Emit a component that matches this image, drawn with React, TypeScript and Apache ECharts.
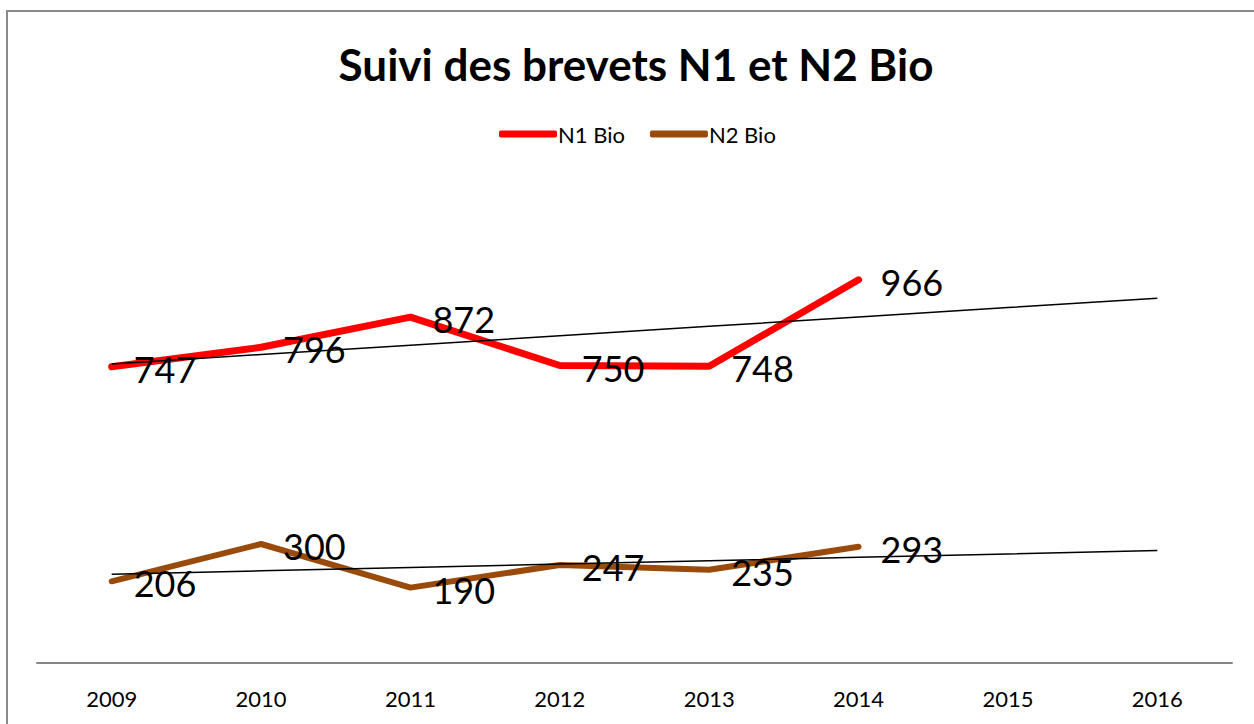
import React, { useEffect, useRef } from "react";
import * as echarts from "echarts";

const years = ["2009", "2010", "2011", "2012", "2013", "2014", "2015", "2016"];
const n1Bio = [747, 796, 872, 750, 748, 966];
const n2Bio = [206, 300, 190, 247, 235, 293];
const seriesNames = ["N1 Bio", "N2 Bio"];

// Linear trendline (least squares) over the observed values, extended across all categories
function trend(values: number[], total: number): number[] {
  const n = values.length;
  const xs = values.map((_, i) => i + 1);
  const mx = xs.reduce((a, b) => a + b, 0) / n;
  const my = values.reduce((a, b) => a + b, 0) / n;
  let num = 0;
  let den = 0;
  for (let i = 0; i < n; i++) {
    num += (xs[i] - mx) * (values[i] - my);
    den += (xs[i] - mx) * (xs[i] - mx);
  }
  const slope = num / den;
  const icpt = my - slope * mx;
  const out: number[] = [];
  for (let i = 1; i <= total; i++) out.push(icpt + slope * i);
  return out;
}

const FONT = "Lato, 'Noto Sans', sans-serif";

export default function App() {
  const ref = useRef<HTMLDivElement>(null);
  useEffect(() => {
    if (!ref.current) return;
    const chart = echarts.init(ref.current, undefined, { renderer: "svg" });
    const label = {
      show: true,
      position: "right" as const,
      distance: 22,
      offset: [0, 2],
      color: "#000",
      fontSize: 36,
      fontFamily: FONT,
    };
    chart.setOption({
      animation: false,
      backgroundColor: "#fff",
      title: {
        text: "Suivi des brevets N1 et N2 Bio",
        left: 631,
        textAlign: "center",
        top: 37,
        textStyle: { fontFamily: FONT, fontWeight: "bold", fontSize: 44, color: "#000" },
      },
      legend: {
        data: seriesNames,
        left: 494,
        top: 118,
        icon: "roundRect",
        itemWidth: 58,
        itemHeight: 7,
        itemGap: 25,
        textStyle: { fontFamily: FONT, fontSize: 22, color: "#000", padding: [0, 0, 0, -4] },
      },
      grid: { left: 37, right: 22, top: 187, bottom: 61 },
      xAxis: {
        type: "category",
        data: years,
        boundaryGap: true,
        axisLine: { lineStyle: { color: "#868686", width: 2 } },
        axisTick: { show: false },
        axisLabel: { color: "#000", fontFamily: FONT, fontSize: 22, margin: 24 },
      },
      yAxis: { type: "value", min: 0, max: 1200, show: false },
      graphic: [
        {
          type: "rect",
          shape: { x: 7, y: 11, width: 1300, height: 800 },
          style: { fill: "none", stroke: "#8a8a8a", lineWidth: 2 },
          silent: true,
        },
      ],
      series: [
        {
          name: "N1 Bio",
          type: "line",
          data: n1Bio,
          symbol: "circle",
          symbolSize: 0,
          showSymbol: true,
          lineStyle: { color: "#FF0000", width: 7, cap: "round" },
          itemStyle: { color: "#FF0000" },
          label,
          z: 2,
        },
        {
          name: "N2 Bio",
          type: "line",
          data: n2Bio,
          symbol: "circle",
          symbolSize: 0,
          showSymbol: true,
          lineStyle: { color: "#9A4B0B", width: 6, cap: "round" },
          itemStyle: { color: "#9A4B0B" },
          label,
          z: 2,
        },
        {
          name: "Tendance N1",
          type: "line",
          data: trend(n1Bio, years.length),
          symbol: "none",
          lineStyle: { color: "#000", width: 1.5 },
          silent: true,
          z: 3,
        },
        {
          name: "Tendance N2",
          type: "line",
          data: trend(n2Bio, years.length),
          symbol: "none",
          lineStyle: { color: "#000", width: 1.5 },
          silent: true,
          z: 3,
        },
      ],
    });
    return () => chart.dispose();
  }, []);
  return (
    <div
      ref={ref}
      style={{ position: "fixed", left: 0, top: 0, width: 1254, height: 724 }}
    />
  );
}
